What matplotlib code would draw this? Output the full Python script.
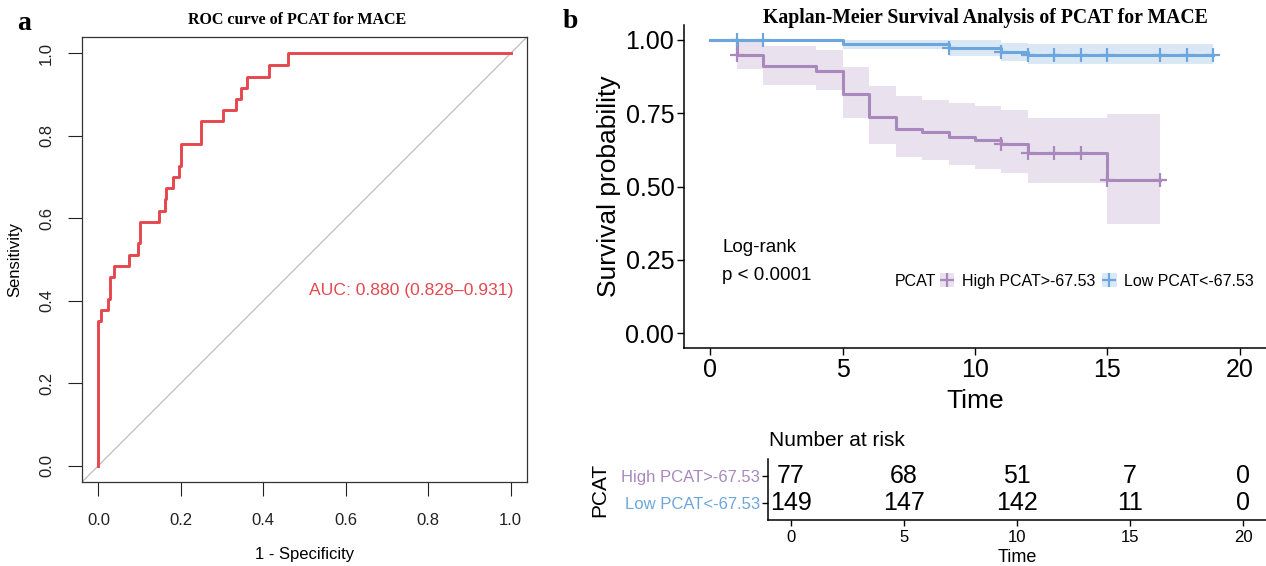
import numpy as np
import matplotlib
matplotlib.use("Agg")
import matplotlib.pyplot as plt
from matplotlib.patches import Patch
from matplotlib.lines import Line2D
from matplotlib.legend_handler import HandlerTuple

plt.rcParams['font.family'] = ['Liberation Sans', 'DejaVu Sans']

# ---------------- data ----------------
# ROC (step corners: top of each vertical rise)
roc_fpr = [0.0, 0.0, 0.006, 0.023, 0.027, 0.037, 0.075, 0.096, 0.100, 0.148, 0.161,
           0.165, 0.180, 0.196, 0.200, 0.249, 0.302, 0.333, 0.345, 0.360, 0.413, 0.461, 1.0]
roc_tpr = [0.0, 0.351, 0.378, 0.404, 0.457, 0.484, 0.511, 0.539, 0.591, 0.618, 0.647,
           0.673, 0.701, 0.728, 0.780, 0.836, 0.862, 0.890, 0.916, 0.943, 0.972, 1.0, 1.0]
auc_text = "AUC: 0.880 (0.828\u20130.931)"

# Kaplan-Meier
high_time = [0, 1, 2, 4, 5, 6, 7, 8, 9, 10, 11, 12, 15, 17]
high_surv = [1.0, 0.949, 0.909, 0.895, 0.815, 0.736, 0.697, 0.686, 0.670, 0.659, 0.645, 0.614, 0.523, 0.523]
high_lower = [1.0, 0.900, 0.847, 0.830, 0.732, 0.645, 0.602, 0.589, 0.574, 0.559, 0.545, 0.511, 0.372, 0.372]
high_upper = [1.0, 1.0, 0.977, 0.966, 0.907, 0.843, 0.809, 0.795, 0.784, 0.773, 0.761, 0.733, 0.748, 0.748]
high_censor = [1, 11, 12, 13, 14, 15, 17]

low_time = [0, 5, 9, 11, 12, 19]
low_surv = [1.0, 0.986, 0.972, 0.959, 0.949, 0.949]
low_lower = [1.0, 0.968, 0.943, 0.926, 0.917, 0.917]
low_upper = [1.0, 1.0, 1.0, 0.989, 0.986, 0.986]
low_censor = [1, 2, 9, 11, 12, 13, 14, 15, 17, 18, 19]

group_labels = ["High PCAT>-67.53", "Low PCAT<-67.53"]
risk_times = [0, 5, 10, 15, 20]
risk_high = [77, 68, 51, 7, 0]
risk_low = [149, 147, 142, 11, 0]

# ---------------- styles ----------------
W, H = 1266, 566
RED = '#E5474F'
PURPLE = '#A988BE'
BLUE = '#6CA6DD'
SERIF = ['Liberation Serif', 'DejaVu Serif']

fig = plt.figure(figsize=(W / 100, H / 100), dpi=100)


def rect(l, t, r, b):
    return [l / W, 1 - b / H, (r - l) / W, (b - t) / H]


def fx(x):
    return x / W


def fy(y):
    return 1 - y / H


# ---------------- panel a: ROC ----------------
ax1 = fig.add_axes(rect(82, 37, 527, 482))
ax1.set_xlim(-0.04, 1.04)
ax1.set_ylim(-0.04, 1.04)
ax1.axline((0, 0), (1, 1), color='#BEBEBE', lw=0.9, zorder=1)
ax1.step(roc_fpr, roc_tpr, where='post', color=RED, lw=2.1, zorder=3)
ax1.text(0.76, 0.425, auc_text, color=RED, fontsize=12.6, ha='center', va='center')
ticks = np.arange(0, 1.01, 0.2)
ax1.set_xticks(ticks)
ax1.set_yticks(ticks)
ax1.set_xticklabels([f"{t:.1f}" for t in ticks])
ax1.set_yticklabels([f"{t:.1f}" for t in ticks], rotation=90, va='center')
ax1.tick_params(axis='both', direction='out', length=10, width=0.8, labelsize=12,
                colors='#222222')
ax1.tick_params(axis='x', pad=12)
ax1.tick_params(axis='y', pad=10)
for s in ax1.spines.values():
    s.set_linewidth(0.9)
    s.set_color('#333333')
ax1.set_xlabel("1 - Specificity", fontsize=12, labelpad=14)
ax1.set_ylabel("Sensitivity", fontsize=12, labelpad=12)
fig.text(fx(297), fy(20), "ROC curve of PCAT for MACE", family=SERIF, weight='bold',
         fontsize=11.5, ha='center', va='center')
fig.text(fx(24), fy(24), "a", family=SERIF, weight='bold', fontsize=20,
         ha='center', va='center')

# ---------------- panel b: KM ----------------
ax2 = fig.add_axes(rect(684, 25, 1266, 348))
ax2.set_xlim(-1, 21)
ax2.set_ylim(-0.05, 1.05)


def surv_at(times, surv, t):
    idx = np.searchsorted(times, t, side='right') - 1
    return np.asarray(surv)[idx]


groups = [(high_time, high_surv, high_lower, high_upper, high_censor, PURPLE),
          (low_time, low_surv, low_lower, low_upper, low_censor, BLUE)]
for times, surv, lo, up, cens, col in groups:
    ax2.fill_between(times, lo, up, step='post', color=col, alpha=0.25, lw=0, zorder=1)

for times, surv, lo, up, cens, col in groups:
    ax2.step(times, surv, where='post', color=col, lw=2.2, zorder=3)
    ct = np.array(cens)
    ax2.plot(ct, surv_at(times, surv, ct), ls='none', marker='+', ms=10, mew=1.6,
             color=col, zorder=4)

ax2.set_xticks([0, 5, 10, 15, 20])
ax2.set_yticks([0, 0.25, 0.5, 0.75, 1.0])
ax2.set_yticklabels(["0.00", "0.25", "0.50", "0.75", "1.00"])
ax2.tick_params(axis='both', direction='out', length=5, width=1.0, labelsize=18,
                colors='black', pad=2)
for s in ['top', 'right']:
    ax2.spines[s].set_visible(False)
for s in ['left', 'bottom']:
    ax2.spines[s].set_linewidth(1.1)
ax2.set_xlabel("Time", fontsize=19, labelpad=5)
ax2.set_ylabel("Survival probability", fontsize=19, labelpad=3)

fig.text(fx(722), fy(247), "Log-rank", fontsize=13.5, ha='left', va='center')
fig.text(fx(722), fy(276), "p < 0.0001", fontsize=13.5, ha='left', va='center')

handles = [
    (Patch(facecolor=PURPLE, alpha=0.25, edgecolor='none'),
     Line2D([], [], color=PURPLE, marker='+', ms=10, mew=1.6, lw=0)),
    (Patch(facecolor=BLUE, alpha=0.25, edgecolor='none'),
     Line2D([], [], color=BLUE, marker='+', ms=10, mew=1.6, lw=0)),
]
leg = ax2.legend(handles, group_labels, ncol=2, frameon=False, fontsize=11.5,
                 handler_map={tuple: HandlerTuple(ndivide=1, pad=0)},
                 handlelength=0.9, handleheight=0.9, handletextpad=0.45,
                 columnspacing=0.45, loc='center left',
                 bbox_to_anchor=(fx(940), fy(281)), bbox_transform=fig.transFigure,
                 borderaxespad=0, borderpad=0)
fig.text(fx(895), fy(281), "PCAT", fontsize=11.5, ha='left', va='center')
fig.text(fx(570), fy(22), "b", family=SERIF, weight='bold', fontsize=20,
         ha='center', va='center')
fig.text(fx(985), fy(18), "Kaplan-Meier Survival Analysis of PCAT for MACE",
         family=SERIF, weight='bold', fontsize=14.2, ha='center', va='center')

# ---------------- risk table ----------------
ax3 = fig.add_axes(rect(768, 459, 1266, 520))
ax3.set_xlim(-1, 21)
ax3.set_ylim(0.4, 2.6)
for t, n in zip(risk_times, risk_high):
    ax3.text(t, 2, str(n), fontsize=18, ha='center', va='center')
for t, n in zip(risk_times, risk_low):
    ax3.text(t, 1, str(n), fontsize=18, ha='center', va='center')
ax3.set_xticks(risk_times)
ax3.set_yticks([2, 1])
ax3.set_yticklabels(group_labels)
for lab, col in zip(ax3.get_yticklabels(), [PURPLE, BLUE]):
    lab.set_color(col)
ax3.tick_params(axis='y', direction='out', length=4, width=1.0, labelsize=12, pad=2)
ax3.tick_params(axis='x', direction='out', length=4, width=1.0, labelsize=12, pad=3)
for s in ['top', 'right']:
    ax3.spines[s].set_visible(False)
for s in ['left', 'bottom']:
    ax3.spines[s].set_linewidth(1.1)
ax3.set_xlabel("Time", fontsize=13, labelpad=3)
fig.text(fx(600), fy(490), "PCAT", fontsize=15, rotation=90, ha='center', va='center')
fig.text(fx(769), fy(440), "Number at risk", fontsize=15, ha='left', va='center')

fig.savefig("out.png", dpi=100)
